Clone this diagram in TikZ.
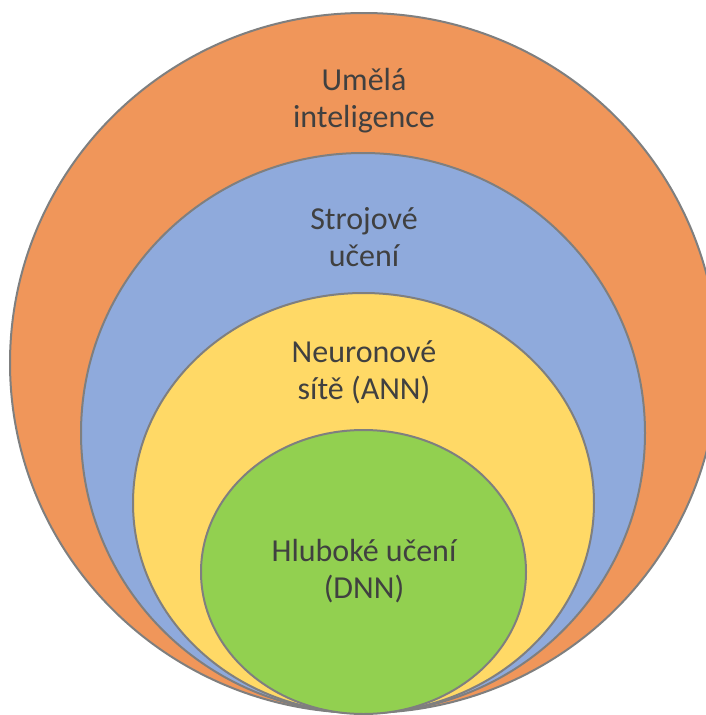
\documentclass[tikz,border=0pt]{standalone}
\usepackage{fontspec}
\setmainfont{Carlito}
\begin{document}
\begin{tikzpicture}[x=1pt,y=-1pt,
  ring/.style={draw=ringgray,line width=2pt},
  lbl/.style={text=txtgray,font=\fontsize{32}{37}\selectfont,align=center,inner sep=0pt}]
\definecolor{ringgray}{HTML}{7F7F7F}
\definecolor{txtgray}{HTML}{404040}
\definecolor{aiorange}{HTML}{F0965A}
\definecolor{mlblue}{HTML}{8FAADC}
\definecolor{annyellow}{HTML}{FFD966}
\definecolor{dnngreen}{HTML}{92D050}
\useasboundingbox (0,0) rectangle (706,715);
\clip (0,0) rectangle (706,715);
% nested sets, all touching at the bottom
\fill[aiorange,ring] (364,363) ellipse [x radius=354, y radius=350];
\fill[mlblue,ring] (363,433) ellipse [x radius=282, y radius=280];
\fill[annyellow,ring] (363.5,503) ellipse [x radius=230.5, y radius=210];
\fill[dnngreen,ring] (363.5,572) ellipse [x radius=162.5, y radius=142];
% labels
\node[lbl] (ai) at (364,101) {Umělá\\inteligence};
\node[lbl] (ml) at (364,237) {Strojové\\učení};
\node[lbl] (ann) at (364,372) {Neuronové\\sítě (ANN)};
\node[lbl] (dnn) at (364,571) {Hluboké učení\\(DNN)};
\end{tikzpicture}
\end{document}
